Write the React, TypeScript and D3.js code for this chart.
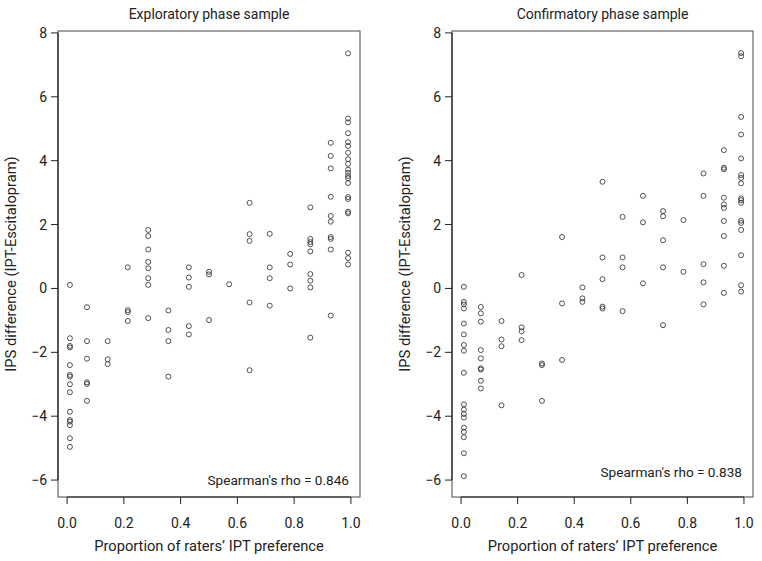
import React from 'react';
import * as d3 from 'd3';

// proportion levels (columns of points)
const xLevels = [0.01, 0.07, 0.143, 0.214, 0.286, 0.357, 0.429, 0.5, 0.571, 0.643, 0.714, 0.786, 0.857, 0.929, 0.99];

// IPS difference values, one list per x level
const exploratoryY = [
  [0.11, -1.56, -1.8, -1.85, -2.4, -2.71, -2.76, -3.0, -3.25, -3.86, -4.12, -4.17, -4.28, -4.69, -4.96],
  [-0.59, -1.65, -2.2, -2.94, -2.99, -3.52],
  [-1.65, -2.22, -2.37],
  [0.66, -0.68, -0.74, -1.02],
  [1.83, 1.64, 1.22, 0.83, 0.63, 0.32, 0.11, -0.93],
  [-0.69, -1.3, -1.65, -2.76],
  [0.66, 0.34, 0.05, -1.18, -1.44],
  [0.52, 0.44, -0.99],
  [0.13],
  [2.68, 1.7, 1.49, -0.44, -2.56],
  [1.71, 0.66, 0.32, -0.54],
  [1.08, 0.75, 0.0],
  [2.54, 1.55, 1.45, 1.38, 1.16, 0.45, 0.24, 0.03, -1.54],
  [4.56, 4.15, 3.76, 2.87, 2.27, 2.09, 1.61, 1.55, 1.22, -0.85],
  [7.36, 5.32, 5.2, 4.86, 4.58, 4.46, 4.25, 4.05, 3.9, 3.72, 3.62, 3.52, 3.45, 3.3, 2.86, 2.8, 2.4, 2.35, 1.12, 0.95, 0.75],
];

const confirmatoryY = [
  [0.05, -0.42, -0.5, -0.63, -1.1, -1.44, -1.77, -1.95, -2.64, -3.63, -3.79, -3.93, -4.04, -4.36, -4.49, -4.66, -5.16, -5.88],
  [-0.58, -0.78, -1.04, -1.93, -2.19, -2.5, -2.54, -2.89, -3.13],
  [-1.02, -1.6, -1.81, -3.66],
  [0.42, -1.22, -1.34, -1.62],
  [-2.35, -2.4, -3.52],
  [1.61, -0.47, -2.24],
  [0.03, -0.31, -0.42],
  [3.34, 0.97, 0.29, -0.57, -0.63],
  [2.24, 0.97, 0.66, -0.71],
  [2.9, 2.07, 0.16],
  [2.42, 2.26, 1.51, 0.66, -1.15],
  [2.14, 0.52],
  [3.6, 2.9, 0.76, 0.19, -0.5],
  [4.33, 3.78, 3.73, 2.84, 2.63, 2.52, 2.11, 1.64, 0.71, -0.14],
  [7.37, 7.27, 5.37, 4.82, 4.07, 3.55, 3.46, 3.29, 2.82, 2.76, 2.68, 2.12, 2.05, 1.83, 1.04, 0.1, -0.1],
];

const xTicks = [0, 0.2, 0.4, 0.6, 0.8, 1.0];
const yTicks = [-6, -4, -2, 0, 2, 4, 6, 8];

const panels = [
  { title: 'Exploratory phase sample', rho: "Spearman's rho = 0.846", ys: exploratoryY, left: 58, right: 360, rhoY: 485 },
  { title: 'Confirmatory phase sample', rho: "Spearman's rho = 0.838", ys: confirmatoryY, left: 452, right: 753, rhoY: 477 },
];

const font = "Roboto, 'Liberation Sans', sans-serif";
const ink = '#222';

function Panel({ p }: { p: typeof panels[number] }) {
  const top = 31;
  const bottom = 497;
  const x = d3.scaleLinear().domain([-0.032, 1.032]).range([p.left, p.right]);
  const y = d3.scaleLinear().domain([-6.53, 8.06]).range([bottom, top]);
  const fmt = d3.format('.1f');
  const points = p.ys.flatMap((col, i) => col.map(v => ({ x: xLevels[i], y: v })));
  const mid = (p.left + p.right) / 2;

  return (
    <g fontFamily={font} fill={ink}>
      <text x={mid} y={19} textAnchor="middle" fontSize={14}>{p.title}</text>
      <rect x={p.left} y={top} width={p.right - p.left} height={bottom - top} fill="none" stroke="#666" strokeWidth={1.2} />

      {/* left axis */}
      <line x1={p.left} x2={p.left} y1={y(-6)} y2={y(8)} stroke={ink} strokeWidth={1.2} />
      {yTicks.map(t => (
        <g key={t}>
          <line x1={p.left - 7} x2={p.left} y1={y(t)} y2={y(t)} stroke={ink} />
          <text x={p.left - 11} y={y(t) + 5} textAnchor="end" fontSize={14}>{t < 0 ? '\u2212' + Math.abs(t) : t}</text>
        </g>
      ))}

      {/* bottom axis */}
      <line x1={x(0)} x2={x(1)} y1={bottom} y2={bottom} stroke={ink} strokeWidth={1.2} />
      {xTicks.map(t => (
        <g key={t}>
          <line x1={x(t)} x2={x(t)} y1={bottom} y2={bottom + 7} stroke={ink} />
          <text x={x(t)} y={528} textAnchor="middle" fontSize={14}>{fmt(t)}</text>
        </g>
      ))}
      <text x={mid} y={551} textAnchor="middle" fontSize={14.7}>Proportion of raters’ IPT preference</text>
      <text transform={`translate(${p.left - 42},${(top + bottom) / 2}) rotate(-90)`} textAnchor="middle" fontSize={14.7}>
        IPS difference (IPT-Escitalopram)
      </text>

      {points.map((d, i) => (
        <circle key={i} cx={x(d.x)} cy={y(d.y)} r={2.5} fill="none" stroke="#333" strokeWidth={0.85} />
      ))}

      <text x={p.right - 11} y={p.rhoY} textAnchor="end" fontSize={13.6}>{p.rho}</text>
    </g>
  );
}

export default function App() {
  return (
    <svg width={762} height={561} style={{ position: 'absolute', left: 0, top: 0, background: '#fff' }}>
      {panels.map(p => <Panel key={p.title} p={p} />)}
    </svg>
  );
}
